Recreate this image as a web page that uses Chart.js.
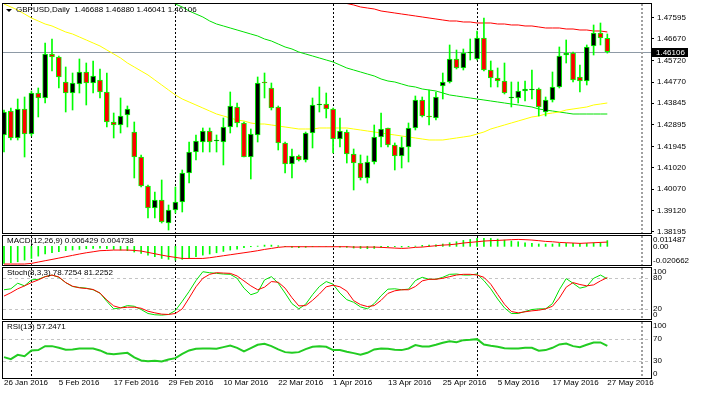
<!DOCTYPE html>
<html><head><meta charset="utf-8">
<title>GBPUSD Daily</title>
<script src="https://cdn.jsdelivr.net/npm/chart.js@4.4.1/dist/chart.umd.min.js"></script>
<style>
html,body{margin:0;padding:0;background:#fff;}
body{width:702px;height:397px;position:relative;overflow:hidden;}
canvas{position:absolute;left:0;}
</style></head><body>
<canvas id="cMain" width="702" height="240" style="top:0"></canvas>
<canvas id="cMacd" width="702" height="40" style="top:230px"></canvas>
<canvas id="cStoch" width="702" height="62" style="top:262px"></canvas>
<canvas id="cRsi" width="702" height="81" style="top:316px"></canvas>
<script>
// ---------------- data ----------------
const symbolTitle = 'GBPUSD,Daily';
const tickIdx = [0, 8, 16, 24, 32, 40, 48, 56, 64, 72, 80, 88];
const tickLabels = ['26 Jan 2016', '5 Feb 2016', '17 Feb 2016', '29 Feb 2016', '10 Mar 2016', '22 Mar 2016',
  '1 Apr 2016', '13 Apr 2016', '25 Apr 2016', '5 May 2016', '17 May 2016', '27 May 2016'];
const monthStartIdx = [4, 25, 48, 69];
const shiftIdx = 93;
const priceTicks = [1.47595, 1.46670, 1.45720, 1.44770, 1.43845, 1.42895, 1.41945, 1.41020, 1.40070, 1.39120, 1.38195];

const openP = [1.42446,1.43499,1.42314,1.43587,1.42489,1.44289,1.44070,1.46001,1.45870,1.44772,
1.44289,1.44684,1.45211,1.44728,1.44860,1.44333,1.43016,1.42885,1.43323,1.42577,
1.41480,1.40207,1.39241,1.39592,1.38582,1.39153,1.39504,1.40777,1.41699,1.42138,
1.42621,1.42182,1.42138,1.42797,1.43675,1.42972,1.41480,1.42446,1.44772,1.44509,
1.43675,1.42095,1.41172,1.41524,1.41348,1.42533,1.43763,1.43806,1.43587,1.42270,
1.42577,1.41611,1.41216,1.40558,1.41260,1.42358,1.42753,1.42007,1.41524,1.41919,
1.42753,1.43982,1.43280,1.43192,1.44597,1.44772,1.45782,1.45387,1.46045,1.45782,
1.46704,1.45299,1.44948,1.44816,1.44070,1.44070,1.44377,1.44421,1.44465,1.43455,
1.43982,1.44553,1.45957,1.46045,1.44992,1.44816,1.46353,1.46923,1.46688];
const highP = [1.43543,1.43631,1.44026,1.44114,1.44377,1.44509,1.46484,1.46660,1.45914,1.45431,
1.45167,1.45782,1.45606,1.45694,1.45343,1.45167,1.43411,1.44070,1.43719,1.43016,
1.41568,1.40250,1.39944,1.40470,1.39372,1.40163,1.40909,1.42138,1.42446,1.42753,
1.42753,1.42446,1.43192,1.44333,1.43850,1.43016,1.42709,1.44992,1.45167,1.44728,
1.43719,1.42138,1.41831,1.41568,1.42577,1.44070,1.44553,1.44289,1.43631,1.43192,
1.42665,1.41831,1.41568,1.41524,1.42885,1.43411,1.42753,1.42095,1.42358,1.42972,
1.44158,1.44114,1.44421,1.44333,1.45167,1.46397,1.46177,1.46221,1.46660,1.47011,
1.47582,1.45694,1.45387,1.45606,1.44772,1.44772,1.44816,1.45299,1.44509,1.44114,
1.45211,1.46309,1.46616,1.46089,1.45519,1.46397,1.47275,1.47362,1.46880];
const lowP = [1.41699,1.42226,1.42226,1.41480,1.42402,1.43236,1.43850,1.45255,1.44509,1.43455,
1.43543,1.44289,1.43763,1.44289,1.44070,1.42797,1.42314,1.42533,1.42797,1.40558,
1.40163,1.38802,1.38802,1.38582,1.38275,1.39021,1.39065,1.40338,1.41348,1.41699,
1.41699,1.41699,1.41129,1.42533,1.42797,1.41480,1.40514,1.42138,1.44070,1.43543,
1.41787,1.40777,1.40558,1.41304,1.41260,1.41875,1.43455,1.43192,1.41655,1.41919,
1.41216,1.40031,1.40470,1.40338,1.41172,1.41919,1.41919,1.40909,1.40997,1.41260,
1.42665,1.43236,1.42885,1.43104,1.44026,1.44728,1.45343,1.45299,1.45738,1.45738,
1.45255,1.44553,1.44553,1.44245,1.43675,1.43850,1.43938,1.44026,1.43280,1.43280,
1.43894,1.44509,1.45606,1.44772,1.44333,1.44641,1.45957,1.46397,1.46041];
const closeP = [1.43455,1.42314,1.43587,1.42489,1.44289,1.44070,1.46001,1.45870,1.44992,1.44289,
1.44728,1.45211,1.44728,1.45036,1.44333,1.43016,1.42885,1.43280,1.43587,1.41480,
1.40207,1.39241,1.39592,1.38626,1.39153,1.39504,1.40777,1.41699,1.42182,1.42621,
1.42138,1.42226,1.42797,1.43719,1.42972,1.41480,1.42489,1.44728,1.44728,1.43631,
1.42095,1.41172,1.41524,1.41348,1.42533,1.43763,1.43806,1.43587,1.42270,1.42621,
1.41611,1.41216,1.40558,1.41260,1.42358,1.42709,1.42007,1.41524,1.41919,1.42753,
1.43982,1.43280,1.43236,1.44114,1.44772,1.45782,1.45387,1.46045,1.46089,1.46704,
1.45299,1.44948,1.44816,1.44289,1.44114,1.44377,1.44465,1.44465,1.43675,1.43982,
1.44553,1.45914,1.46045,1.44860,1.44816,1.46309,1.46923,1.46704,1.46106];

const maYellow = [1.48196,1.48065,1.47933,1.47757,1.47582,1.47450,1.47318,1.47231,1.47099,1.46967,
1.46879,1.46748,1.46616,1.46484,1.46353,1.46177,1.46001,1.45826,1.45606,1.45431,
1.45255,1.45080,1.44860,1.44641,1.44421,1.44202,1.44026,1.43894,1.43763,1.43631,
1.43499,1.43367,1.43280,1.43192,1.43104,1.43060,1.42972,1.42928,1.42928,1.42885,
1.42841,1.42797,1.42753,1.42709,1.42709,1.42709,1.42753,1.42753,1.42753,1.42753,
1.42753,1.42709,1.42665,1.42621,1.42577,1.42533,1.42489,1.42446,1.42402,1.42358,
1.42314,1.42270,1.42226,1.42226,1.42226,1.42270,1.42314,1.42358,1.42402,1.42489,
1.42577,1.42709,1.42797,1.42885,1.42972,1.43060,1.43148,1.43236,1.43280,1.43367,
1.43411,1.43455,1.43543,1.43587,1.43631,1.43675,1.43763,1.43806,1.43850];
const maGreen = [null,null,null,null,null,null,null,null,null,null,
null,null,null,null,null,null,null,null,null,null,
null,null,null,1.48460,1.48328,1.48196,1.48065,1.47889,1.47757,1.47626,
1.47450,1.47318,1.47231,1.47143,1.47055,1.46967,1.46879,1.46792,1.46660,1.46572,
1.46440,1.46309,1.46221,1.46089,1.46001,1.45914,1.45826,1.45738,1.45650,1.45519,
1.45387,1.45299,1.45211,1.45123,1.45036,1.44904,1.44816,1.44772,1.44684,1.44597,
1.44553,1.44465,1.44421,1.44377,1.44289,1.44202,1.44158,1.44114,1.44070,1.44026,
1.43982,1.43938,1.43894,1.43850,1.43806,1.43763,1.43719,1.43675,1.43587,1.43543,
1.43499,1.43455,1.43411,1.43367,1.43367,1.43367,1.43367,1.43367,1.43367];
const maRed = [null,null,null,null,null,null,null,null,null,null,
null,null,null,null,null,null,null,null,null,null,
null,null,null,null,null,null,null,null,null,null,
null,null,null,null,null,null,null,null,null,null,
null,null,null,null,null,null,null,null,1.48416,1.48328,
1.48218,1.48153,1.48065,1.48021,1.47977,1.47889,1.47845,1.47801,1.47757,1.47714,
1.47670,1.47626,1.47582,1.47538,1.47494,1.47450,1.47450,1.47406,1.47406,1.47362,
1.47362,1.47362,1.47318,1.47318,1.47275,1.47275,1.47231,1.47231,1.47187,1.47143,
1.47143,1.47143,1.47099,1.47099,1.47055,1.47055,1.47011,1.47011,1.46967];

const macdMain = [-0.0189,-0.0182,-0.0171,-0.0152,-0.0134,-0.0108,-0.0085,-0.0071,-0.0060,-0.0048,
-0.0041,-0.0034,-0.0026,-0.0023,-0.0019,-0.0026,-0.0034,-0.0041,-0.0048,-0.0063,
-0.0078,-0.0097,-0.0115,-0.0134,-0.0144,-0.0152,-0.0144,-0.0134,-0.0115,-0.0097,
-0.0085,-0.0071,-0.0056,-0.0041,-0.0030,-0.0015,-0.0004,0.0003,0.0014,0.0014,
0.0007,-0.0004,-0.0011,-0.0015,-0.0011,-0.0004,0.0000,0.0000,-0.0004,-0.0008,
-0.0011,-0.0019,-0.0023,-0.0026,-0.0023,-0.0011,-0.0004,-0.0004,-0.0008,-0.0004,
0.0003,0.0011,0.0014,0.0018,0.0026,0.0040,0.0051,0.0066,0.0077,0.0088,
0.0088,0.0088,0.0081,0.0070,0.0059,0.0051,0.0040,0.0033,0.0026,0.0026,
0.0026,0.0033,0.0033,0.0033,0.0033,0.0033,0.0040,0.0044,0.006429];
const macdSignal = [-0.0196,-0.0196,-0.0196,-0.0196,-0.0189,-0.0174,-0.0159,-0.0145,-0.0130,-0.0115,
-0.0100,-0.0085,-0.0071,-0.0060,-0.0048,-0.0045,-0.0041,-0.0041,-0.0041,-0.0045,
-0.0052,-0.0067,-0.0082,-0.0097,-0.0111,-0.0122,-0.0134,-0.0134,-0.0134,-0.0134,
-0.0126,-0.0115,-0.0104,-0.0093,-0.0082,-0.0071,-0.0060,-0.0048,-0.0034,-0.0023,
-0.0011,-0.0004,-0.0004,-0.0004,-0.0004,-0.0004,-0.0004,-0.0004,-0.0004,-0.0004,
-0.0004,-0.0008,-0.0008,-0.0008,-0.0008,-0.0011,-0.0015,-0.0019,-0.0023,-0.0019,
-0.0011,-0.0008,0.0000,0.0007,0.0014,0.0018,0.0026,0.0037,0.0044,0.0051,
0.0059,0.0063,0.0066,0.0070,0.0074,0.0077,0.0074,0.0070,0.0063,0.0055,
0.0051,0.0044,0.0040,0.0037,0.0033,0.0037,0.0040,0.0044,0.004738];
const macdTicks = [0.011487, 0, -0.020662];
const macdTickLabels = ['0.011487', '0.00', '-0.020662'];

const stochMain = [57.3,59.2,70.1,65.0,76.6,77.9,83.0,86.2,81.8,71.4,
63.7,61.8,60.5,57.3,50.8,34.7,19.9,21.8,26.3,25.0,
18.6,10.8,8.3,7.6,8.9,16.6,34.7,54.0,75.3,92.7,
90.7,89.5,88.2,87.6,79.8,60.5,47.6,52.1,76.6,83.0,
70.1,50.8,30.2,19.9,28.9,47.6,63.7,73.4,68.2,50.8,
37.9,32.8,23.7,19.9,30.2,45.6,58.5,59.2,57.3,58.5,
75.3,81.8,77.9,77.9,81.8,87.6,88.2,86.2,86.2,88.2,
75.3,59.2,39.2,21.8,10.8,10.8,14.7,18.6,19.9,19.9,
30.2,57.3,79.2,70.1,60.5,63.7,79.8,86.2,78.7254];
const stochSignal = [45.0,51.5,59.2,65.0,71.4,76.6,83.0,86.2,82.4,71.4,
64.3,61.1,59.8,57.9,50.8,37.3,25.7,21.8,23.1,23.1,
21.1,15.3,12.1,9.5,8.9,10.8,19.9,41.1,63.1,79.8,
87.6,90.8,90.1,89.5,84.4,74.7,65.0,57.3,62.4,73.4,
72.1,60.5,41.8,25.7,26.3,36.6,48.9,63.1,66.3,63.1,
54.7,36.0,28.2,24.4,26.3,36.6,50.2,55.3,57.3,57.3,
63.7,74.7,77.9,77.9,79.8,83.0,86.2,87.6,87.6,86.2,
81.8,68.2,48.2,28.9,14.7,12.1,14.1,16.0,17.3,19.9,
25.0,41.1,62.4,71.4,67.6,65.0,66.9,74.7,81.2252];
const stochTicks = [100, 80, 20, 0];
const stochLevels = [80, 20];

const rsi = [37.3,33.7,41.4,39.0,49.2,49.8,56.9,56.9,53.9,50.4,
51.0,52.7,52.7,52.7,49.2,43.8,42.6,43.8,45.0,36.7,
31.3,30.1,30.7,29.5,33.1,35.5,43.2,49.2,52.1,52.7,
52.7,52.1,55.1,58.1,53.9,47.4,53.3,59.3,61.1,56.9,
51.0,46.2,45.0,46.2,51.5,55.7,56.9,55.7,49.8,49.8,
46.8,44.4,41.4,45.0,51.0,52.7,52.1,50.4,49.8,52.7,
58.7,56.3,56.3,59.3,62.9,65.8,64.0,67.6,68.2,69.4,
59.9,57.5,55.7,53.3,52.7,52.7,53.9,53.9,48.6,49.8,
53.9,59.9,61.7,56.9,55.1,59.3,63.5,63.5,57.2471];
const rsiTicks = [100, 70, 30, 0];
const rsiLevels = [70, 30];

// ---------------- layout constants ----------------
const X_MIN = -0.146, X_MAX = 94.37;
const P_MIN = 1.38143, P_MAX = 1.48196;
const FF = '"Liberation Sans", Arial, sans-serif';
const LIME = '#00ff00';
const last = closeP.length - 1;

Chart.defaults.font.family = FF;
Chart.defaults.font.size = 8;
Chart.defaults.color = '#000';

const pts = arr => arr.map((v, i) => ({x: i, y: v}));

// ---------------- pane plugin ----------------
const panePlugin = {
  id: 'pane',
  beforeDatasetsDraw(chart, args, o) {
    const {ctx, chartArea: a} = chart;
    const x = chart.scales.x, y = chart.scales.y;
    ctx.save();
    ctx.beginPath(); ctx.rect(a.left, a.top, a.right - a.left, a.bottom - a.top); ctx.clip();
    ctx.lineWidth = 1;
    (o.levels || []).forEach(v => {
      const py = Math.round(y.getPixelForValue(v)) + 0.5;
      ctx.strokeStyle = '#c4c4c4'; ctx.setLineDash([3, 3]);
      ctx.beginPath(); ctx.moveTo(a.left, py); ctx.lineTo(a.right, py); ctx.stroke();
    });
    if (o.bid != null) {
      const py = Math.round(y.getPixelForValue(o.bid)) + 0.5;
      ctx.strokeStyle = '#8e9aa6'; ctx.setLineDash([]);
      ctx.beginPath(); ctx.moveTo(a.left, py); ctx.lineTo(a.right, py); ctx.stroke();
    }
    ctx.strokeStyle = '#000'; ctx.setLineDash([2, 2]);
    monthStartIdx.forEach(i => {
      const px = Math.round(x.getPixelForValue(i)) + 0.5;
      ctx.beginPath(); ctx.moveTo(px, a.top); ctx.lineTo(px, a.bottom); ctx.stroke();
    });
    ctx.strokeStyle = '#a0a0a0'; ctx.lineWidth = 2; ctx.setLineDash([2, 2]);
    const sx = Math.round(x.getPixelForValue(shiftIdx));
    ctx.beginPath(); ctx.moveTo(sx, a.top); ctx.lineTo(sx, a.bottom); ctx.stroke();
    ctx.restore();
  },
  afterDraw(chart, args, o) {
    const {ctx, chartArea: a} = chart;
    const y = chart.scales.y;
    ctx.save();
    ctx.strokeStyle = '#000'; ctx.lineWidth = 1; ctx.setLineDash([]);
    ctx.strokeRect(a.left - 0.5, a.top - 0.5, a.right - a.left + 1, a.bottom - a.top + 1);
    ctx.font = '8px ' + FF; ctx.fillStyle = '#000'; ctx.textBaseline = 'middle'; ctx.textAlign = 'left';
    if (o.marker) {
      ctx.beginPath(); ctx.moveTo(a.left + 3, a.top + 5); ctx.lineTo(a.left + 9, a.top + 5); ctx.lineTo(a.left + 6, a.top + 8); ctx.closePath(); ctx.fill();
    }
    if (o.title) ctx.fillText(o.title, a.left + o.titleDx, a.top + o.titleDy);
    if (o.labels) {
      o.labels.forEach((t, k) => {
        let py = y.getPixelForValue(o.values[k]);
        py = Math.min(Math.max(py, a.top + 4), a.bottom - 4);
        ctx.fillText(t, a.right + 2, py);
      });
    }
    if (o.tag != null) {
      const py = Math.round(y.getPixelForValue(o.tag));
      ctx.fillStyle = '#000';
      ctx.fillRect(a.right + 1, py - 4, 36, 9);
      ctx.fillStyle = '#fff';
      ctx.fillText(o.tag.toFixed(5), a.right + 5, py + 0.5);
    }
    ctx.restore();
  }
};
Chart.register(panePlugin);

function xAxis(show) {
  return {
    type: 'linear', min: X_MIN, max: X_MAX, offset: false, display: show,
    grid: {display: false, drawTicks: false}, border: {display: false},
    afterBuildTicks: s => { s.ticks = tickIdx.map(v => ({value: v})); },
    afterFit: s => { s.paddingLeft = 0; s.paddingRight = 0; if (show) s.height = 19; },
    ticks: {autoSkip: false, maxRotation: 0, minRotation: 0, align: 'start', padding: 0,
      font: {size: 8, family: FF}, color: '#000',
      callback: v => { const k = tickIdx.indexOf(v); return k >= 0 ? tickLabels[k] : ''; }}
  };
}
function yHidden(min, max) {
  return {
    position: 'right', min: min, max: max,
    afterFit: s => { s.width = 51; s.paddingTop = 0; s.paddingBottom = 0; },
    ticks: {display: false}, grid: {display: false, drawTicks: false}, border: {display: false}
  };
}
const baseOpts = {
  responsive: false, animation: false, events: [],
  plugins: {legend: {display: false}, tooltip: {enabled: false}}
};

// ---------------- main price pane ----------------
new Chart(document.getElementById('cMain'), {
  type: 'bar',
  data: {
    datasets: [
      {type: 'line', data: pts(maRed), borderColor: '#ff0000', borderWidth: 1, pointRadius: 0, order: 5},
      {type: 'line', data: pts(maGreen), borderColor: '#00e000', borderWidth: 1, pointRadius: 0, order: 4},
      {type: 'line', data: pts(maYellow), borderColor: '#ffff00', borderWidth: 1, pointRadius: 0, order: 3},
      {type: 'bar', data: openP.map((o, i) => ({x: i, y: [lowP[i], highP[i]]})), backgroundColor: LIME,
        barThickness: 1, grouped: false, order: 2},
      {type: 'bar', data: openP.map((o, i) => ({x: i, y: [o, closeP[i]]})),
        backgroundColor: openP.map((o, i) => closeP[i] >= o ? '#000000' : '#ff0000'),
        borderColor: LIME, borderWidth: 1, borderSkipped: false, barThickness: 5, grouped: false,
        minBarLength: 1, order: 1}
    ]
  },
  options: Object.assign({}, baseOpts, {
    layout: {padding: {left: 3, right: 0, top: 4, bottom: 7}},
    scales: {
      x: xAxis(false),
      y: {position: 'right', min: P_MIN, max: P_MAX,
        afterFit: s => { s.width = 51; s.paddingTop = 0; s.paddingBottom = 0; },
        afterBuildTicks: s => { s.ticks = priceTicks.map(v => ({value: v})); },
        grid: {display: true, drawOnChartArea: false, drawTicks: true, tickLength: 3, color: '#000'},
        border: {display: false},
        ticks: {padding: 3, font: {size: 8, family: FF}, color: '#000', callback: v => v.toFixed(5)}}
    },
    plugins: Object.assign({}, baseOpts.plugins, {
      pane: {marker: true, title: symbolTitle + '  ' + [openP[last], highP[last], lowP[last], closeP[last]].map(v => v.toFixed(5)).join(' '),
        titleDx: 13, titleDy: 6, bid: closeP[last], tag: closeP[last]}
    })
  })
});

// ---------------- MACD pane ----------------
new Chart(document.getElementById('cMacd'), {
  type: 'bar',
  data: {
    datasets: [
      {type: 'line', data: pts(macdSignal), borderColor: '#ff0000', borderWidth: 1, pointRadius: 0, order: 1},
      {type: 'bar', data: pts(macdMain), backgroundColor: LIME, barThickness: 1, grouped: false, order: 2}
    ]
  },
  options: Object.assign({}, baseOpts, {
    layout: {padding: {left: 3, right: 0, top: 6, bottom: 5}},
    scales: {x: xAxis(false), y: yHidden(macdTicks[2], macdTicks[0])},
    plugins: Object.assign({}, baseOpts.plugins, {
      pane: {title: 'MACD(12,26,9) ' + macdMain[last].toFixed(6) + ' ' + macdSignal[last].toFixed(6),
        titleDx: 4, titleDy: 5, labels: macdTickLabels, values: macdTicks}
    })
  })
});

// ---------------- Stochastic pane ----------------
new Chart(document.getElementById('cStoch'), {
  type: 'line',
  data: {
    datasets: [
      {data: pts(stochSignal), borderColor: '#ff0000', borderWidth: 1, pointRadius: 0, order: 1},
      {data: pts(stochMain), borderColor: '#00e000', borderWidth: 1, pointRadius: 0, order: 2}
    ]
  },
  options: Object.assign({}, baseOpts, {
    layout: {padding: {left: 3, right: 0, top: 6, bottom: 5}},
    scales: {x: xAxis(false), y: yHidden(0, 100)},
    plugins: Object.assign({}, baseOpts.plugins, {
      pane: {title: 'Stoch(8,3,3) ' + stochMain[last].toFixed(4) + ' ' + stochSignal[last].toFixed(4),
        titleDx: 4, titleDy: 5, levels: stochLevels, labels: stochTicks.map(String), values: stochTicks}
    })
  })
});

// ---------------- RSI pane ----------------
new Chart(document.getElementById('cRsi'), {
  type: 'line',
  data: {
    datasets: [
      {data: pts(rsi), borderColor: '#22cc22', borderWidth: 2, pointRadius: 0}
    ]
  },
  options: Object.assign({}, baseOpts, {
    layout: {padding: {left: 3, right: 0, top: 6, bottom: 0}},
    scales: {x: xAxis(true), y: yHidden(0, 100)},
    plugins: Object.assign({}, baseOpts.plugins, {
      pane: {title: 'RSI(13) ' + rsi[last].toFixed(4),
        titleDx: 4, titleDy: 5, levels: rsiLevels, labels: rsiTicks.map(String), values: rsiTicks}
    })
  })
});
</script>
</body></html>
